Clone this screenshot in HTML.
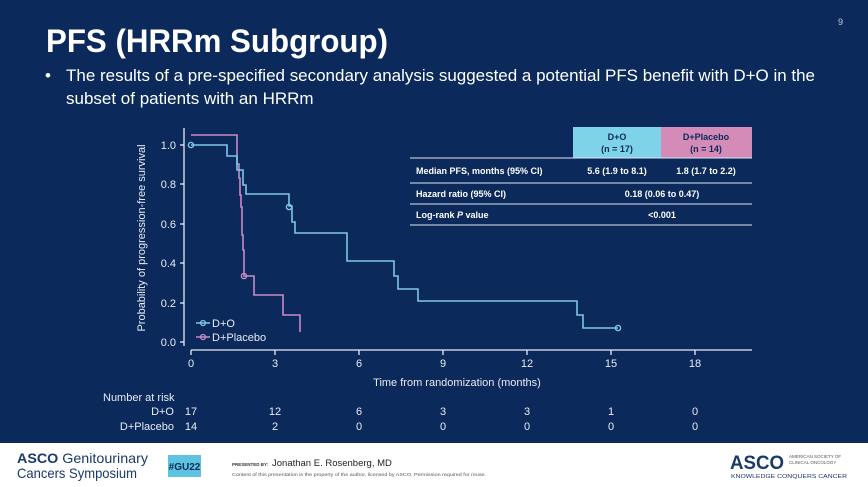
<!DOCTYPE html>
<html><head><meta charset="utf-8"><style>
html,body{margin:0;padding:0;}
body{width:868px;height:487px;overflow:hidden;background:#fff;font-family:"Liberation Sans",Arial,sans-serif;}
svg{display:block;}
</style></head><body>
<svg width="868" height="487" viewBox="0 0 868 487" xmlns="http://www.w3.org/2000/svg" font-family="Liberation Sans, Arial, sans-serif">
<rect x="0" y="0" width="868" height="443" fill="#0b2a5b"/>
<text x="838" y="25" font-size="9" fill="#c8d0e0">9</text>
<text x="46" y="52" font-size="32" font-weight="bold" fill="#fff" textLength="342" lengthAdjust="spacingAndGlyphs">PFS (HRRm Subgroup)</text>
<text x="45" y="81" font-size="17" fill="#fff">•</text>
<text x="66" y="81" font-size="17" fill="#fff" textLength="749" lengthAdjust="spacingAndGlyphs">The results of a pre-specified secondary analysis suggested a potential PFS benefit with D+O in the</text>
<text x="66" y="104" font-size="17" fill="#fff">subset of patients with an HRRm</text>

<g stroke="#e8ecf4" stroke-width="1.3" fill="none">
<line x1="184" y1="128" x2="184" y2="346"/>
<line x1="191" y1="350" x2="752" y2="350"/>
<line x1="180" y1="145" x2="184" y2="145"/>
<line x1="180" y1="184" x2="184" y2="184"/>
<line x1="180" y1="224" x2="184" y2="224"/>
<line x1="180" y1="263" x2="184" y2="263"/>
<line x1="180" y1="303" x2="184" y2="303"/>
<line x1="180" y1="342" x2="184" y2="342"/>
<line x1="191" y1="350" x2="191" y2="355"/>
<line x1="275" y1="350" x2="275" y2="355"/>
<line x1="359" y1="350" x2="359" y2="355"/>
<line x1="443" y1="350" x2="443" y2="355"/>
<line x1="527" y1="350" x2="527" y2="355"/>
<line x1="611" y1="350" x2="611" y2="355"/>
<line x1="695" y1="350" x2="695" y2="355"/>
</g>
<g font-size="11" fill="#e8ecf4" text-anchor="end">
<text x="176" y="149">1.0</text><text x="176" y="188">0.8</text><text x="176" y="228">0.6</text>
<text x="176" y="267">0.4</text><text x="176" y="307">0.2</text><text x="176" y="346">0.0</text>
</g>
<g font-size="11" fill="#e8ecf4" text-anchor="middle">
<text x="191" y="367">0</text><text x="275" y="367">3</text><text x="359" y="367">6</text>
<text x="443" y="367">9</text><text x="527" y="367">12</text><text x="611" y="367">15</text><text x="695" y="367">18</text>
<text x="457" y="386">Time from randomization (months)</text>
<text x="0" y="0" transform="translate(145,238) rotate(-90)">Probability of progression-free survival</text>
</g>

<polyline fill="none" stroke="#c98ac4" stroke-width="1.6" points="191,135 237,135 237,164 239,164 239,178 240,178 240,195 241,195 241,207 242,207 242,235 243,235 243,250 244,250 244,276 254,276 254,295 283,295 283,315 300,315 300,332"/>
<circle cx="244" cy="276" r="2.6" fill="none" stroke="#c98ac4" stroke-width="1.4"/>
<polyline fill="none" stroke="#7fc6e4" stroke-width="1.6" points="191,145 227,145 227,156 237,156 237,170 243,170 243,185 246,185 246,194 289,194 289,206 292,206 292,222 295,222 295,233 347,233 347,261 394,261 394,276 398,276 398,289 418,289 418,301 577,301 577,315 583,315 583,328 618,328"/>
<circle cx="191" cy="145" r="2.6" fill="none" stroke="#7fc6e4" stroke-width="1.4"/>
<circle cx="289" cy="207" r="2.6" fill="none" stroke="#7fc6e4" stroke-width="1.4"/>
<circle cx="618" cy="328" r="2.6" fill="none" stroke="#7fc6e4" stroke-width="1.4"/>

<line x1="196" y1="323" x2="210" y2="323" stroke="#7fc6e4" stroke-width="1.5"/>
<circle cx="203" cy="323" r="2.5" fill="none" stroke="#7fc6e4" stroke-width="1.3"/>
<text x="212" y="327" font-size="11" fill="#e8ecf4">D+O</text>
<line x1="196" y1="337" x2="210" y2="337" stroke="#c98ac4" stroke-width="1.5"/>
<circle cx="203" cy="337" r="2.5" fill="none" stroke="#c98ac4" stroke-width="1.3"/>
<text x="212" y="341" font-size="11" fill="#e8ecf4">D+Placebo</text>

<rect x="573" y="127" width="88" height="31" fill="#7fd3e8"/>
<rect x="661" y="127" width="91" height="31" fill="#d48bb8"/>
<g font-size="9" font-weight="bold" fill="#0b2a5b" text-anchor="middle">
<text x="617" y="140">D+O</text><text x="617" y="152">(n = 17)</text>
<text x="706" y="140">D+Placebo</text><text x="706" y="152">(n = 14)</text>
</g>
<g stroke="#dfe6f0" stroke-width="1">
<line x1="410" y1="158" x2="752" y2="158"/>
<line x1="410" y1="183" x2="752" y2="183"/>
<line x1="410" y1="204" x2="752" y2="204"/>
<line x1="410" y1="225" x2="752" y2="225"/>
</g>
<g font-size="9" font-weight="bold" fill="#fff">
<text x="416" y="174">Median PFS, months (95% CI)</text>
<text x="416" y="197">Hazard ratio (95% CI)</text>
<text x="416" y="218">Log-rank <tspan font-style="italic">P</tspan> value</text>
<text x="617" y="174" text-anchor="middle">5.6 (1.9 to 8.1)</text>
<text x="706" y="174" text-anchor="middle">1.8 (1.7 to 2.2)</text>
<text x="662" y="197" text-anchor="middle">0.18 (0.06 to 0.47)</text>
<text x="662" y="218" text-anchor="middle">&lt;0.001</text>
</g>

<g font-size="11" fill="#e8ecf4">
<text x="103" y="401">Number at risk</text>
<text x="174" y="415" text-anchor="end">D+O</text>
<text x="174" y="430" text-anchor="end">D+Placebo</text>
</g>
<g font-size="11" fill="#e8ecf4" text-anchor="middle">
<text x="191" y="415">17</text><text x="275" y="415">12</text><text x="359" y="415">6</text><text x="443" y="415">3</text><text x="527" y="415">3</text><text x="611" y="415">1</text><text x="695" y="415">0</text>
<text x="191" y="430">14</text><text x="275" y="430">2</text><text x="359" y="430">0</text><text x="443" y="430">0</text><text x="527" y="430">0</text><text x="611" y="430">0</text><text x="695" y="430">0</text>
</g>

<rect x="0" y="443" width="868" height="44" fill="#fff"/>
<text x="17" y="463" font-size="14" fill="#1a3a6b" textLength="131" lengthAdjust="spacingAndGlyphs"><tspan font-weight="bold">ASCO</tspan> Genitourinary</text>
<text x="17" y="478" font-size="14" fill="#1a3a6b" textLength="120" lengthAdjust="spacingAndGlyphs">Cancers Symposium</text>
<rect x="168" y="455" width="33" height="22" fill="#5ec3e0"/>
<text x="184.5" y="470" font-size="10" font-weight="bold" fill="#0b2a5b" text-anchor="middle">#GU22</text>
<text x="232" y="466" font-size="4.5" font-weight="bold" fill="#333">PRESENTED BY:</text>
<text x="272" y="466" font-size="9.5" fill="#222">Jonathan E. Rosenberg, MD</text>
<text x="232" y="476" font-size="4.5" fill="#555" textLength="254" lengthAdjust="spacingAndGlyphs">Content of this presentation is the property of the author, licensed by ASCO. Permission required for reuse.</text>
<text x="730" y="469" font-size="19" font-weight="bold" fill="#1a3a6b" textLength="54" lengthAdjust="spacingAndGlyphs">ASCO</text>
<text x="789" y="458" font-size="4.5" fill="#555">AMERICAN SOCIETY OF</text>
<text x="789" y="464" font-size="4.5" fill="#555">CLINICAL ONCOLOGY</text>
<text x="731" y="478" font-size="5.5" fill="#1a3a6b" textLength="116" lengthAdjust="spacingAndGlyphs">KNOWLEDGE CONQUERS CANCER</text>
</svg>
</body></html>
